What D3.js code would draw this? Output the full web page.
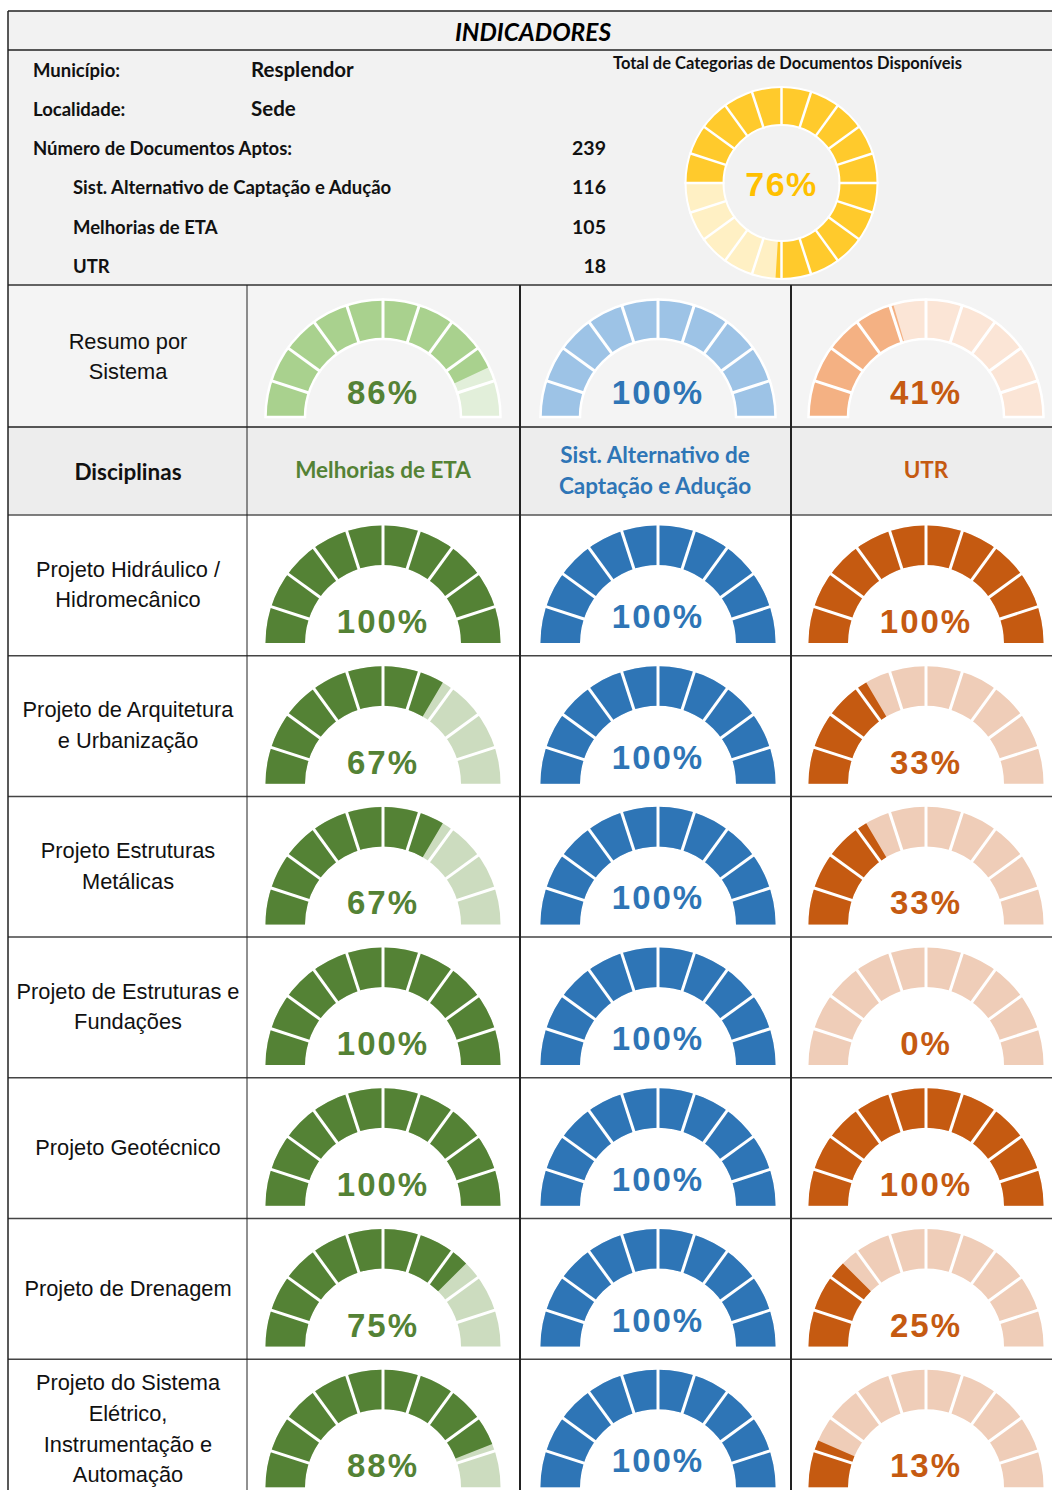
<!DOCTYPE html>
<html>
<head>
<meta charset="utf-8">
<script src="https://cdn.jsdelivr.net/npm/d3@7"></script>
<style>
  body { margin: 0; background: #fff; }
  .arial { font-family: "Liberation Sans", Arial, sans-serif; }
  .cal { font-family: Lato, "Open Sans", sans-serif; }
</style>
</head>
<body>
<div id="chart"></div>
<script>
// Dati
var municipio = "Resplendor";
var localidade = "Sede";
var docLabels = ["Número de Documentos Aptos:", "Sist. Alternativo de Captação e Adução", "Melhorias de ETA", "UTR"];
var docValues = [239, 116, 105, 18];
var totalTitle = "Total de Categorias de Documentos Disponíveis";
var totalPct = 76;

var systems = [["Melhorias de ETA"], ["Sist. Alternativo de", "Captação e Adução"], ["UTR"]];
var summaryPct = [86, 100, 41];

var disciplines = [
  ["Projeto Hidráulico /", "Hidromecânico"],
  ["Projeto de Arquitetura", "e Urbanização"],
  ["Projeto Estruturas", "Metálicas"],
  ["Projeto de Estruturas e", "Fundações"],
  ["Projeto Geotécnico"],
  ["Projeto de Drenagem"],
  ["Projeto do Sistema", "Elétrico,", "Instrumentação e", "Automação"]
];
var pctMelhorias = [100, 67, 67, 100, 100, 75, 88];
var pctSist = [100, 100, 100, 100, 100, 100, 100];
var pctUTR = [100, 33, 33, 0, 100, 25, 13];

// palette: [scuro, chiaro, testo] per riga riassunto e righe discipline
var palSummary = [["#A9D18E", "#E2EFDA", "#548235"], ["#9DC3E6", "#DEEBF7", "#2E75B6"], ["#F4B183", "#FBE5D6", "#C55A11"]];
var palRows = [["#548235", "#CCDCBF", "#548235"], ["#2E75B6", "#C0D5EA", "#2E75B6"], ["#C55A11", "#EFCDB8", "#C55A11"]];

var W = 1052, H = 1490;
var rowY0 = 515, rowH = 140.7;
var colCx = [383, 658, 926];

var svg = d3.select("#chart").append("svg")
    .attr("width", W).attr("height", H);

// sfondi
function bg(x, y, w, h, c){
  svg.append("rect").attr("x", x).attr("y", y).attr("width", w).attr("height", h).attr("fill", c);
}
bg(8, 11, W, 39, "#F2F2F2");
bg(8, 50, W, 235, "#F2F2F2");
bg(8, 285, W, 142, "#F4F4F4");
bg(8, 427, W, 88, "#EDEDED");

// testata
svg.append("text").attr("class", "cal")
   .attr("x", 533).attr("y", 41).attr("text-anchor", "middle")
   .attr("font-size", 24.5).attr("font-weight", "bold").attr("font-style", "italic")
   .text("INDICADORES");

var info = svg.append("g").attr("class", "cal").attr("font-weight", "bold").attr("fill", "#111");
info.append("text").attr("x", 33).attr("y", 77).attr("font-size", 18.5).text("Município:");
info.append("text").attr("x", 251).attr("y", 77).attr("font-size", 20.5).text(municipio);
info.append("text").attr("x", 33).attr("y", 116).attr("font-size", 18.5).text("Localidade:");
info.append("text").attr("x", 251).attr("y", 116).attr("font-size", 20.5).text(localidade);

info.selectAll(".lab").data(docLabels).enter().append("text")
    .attr("class", "lab")
    .attr("x", (d, i) => i == 0 ? 33 : 73)
    .attr("y", (d, i) => 155 + i * 39.3)
    .attr("font-size", 18.5)
    .text(d => d);
info.selectAll(".val").data(docValues).enter().append("text")
    .attr("class", "val")
    .attr("x", 606).attr("text-anchor", "end")
    .attr("y", (d, i) => 155 + i * 39.3)
    .attr("font-size", 19.5)
    .text(d => d);
info.append("text").attr("x", 613).attr("y", 69).attr("font-size", 16.5).text(totalTitle);

// ciambella totale
function drawDonut(cx, cy, pct){
  var R = 96, r = 58;
  var ang = d3.scaleLinear().domain([0, 100]).range([-Math.PI / 2, 3 * Math.PI / 2]);
  var arc = d3.arc().innerRadius(r).outerRadius(R);
  var g = svg.append("g").attr("transform", "translate(" + cx + "," + cy + ")");
  g.append("path").attr("d", arc({startAngle: ang(0), endAngle: ang(100)})).attr("fill", "#FFF0C4");
  g.append("path").attr("d", arc({startAngle: ang(0), endAngle: ang(pct)})).attr("fill", "#FFCA2C");
  g.selectAll("line").data(d3.range(0, 100, 5)).enter().append("line")
   .attr("x1", d => (r - 1) * Math.sin(ang(d))).attr("y1", d => -(r - 1) * Math.cos(ang(d)))
   .attr("x2", d => (R + 1) * Math.sin(ang(d))).attr("y2", d => -(R + 1) * Math.cos(ang(d)))
   .attr("stroke", "#fff").attr("stroke-width", 2.5);
  g.append("path").attr("d", arc({startAngle: 0, endAngle: 2 * Math.PI}))
   .attr("fill", "none").attr("stroke", "#fff").attr("stroke-width", 2);
  g.append("text").attr("class", "arial")
   .attr("y", 13).attr("text-anchor", "middle")
   .attr("font-size", 34).attr("font-weight", "bold").attr("letter-spacing", 1.5)
   .attr("fill", "#FFC000").text(pct + "%");
}
drawDonut(781.5, 183, totalPct);

// mezza ciambella
function drawGauge(cx, cy, pct, pal, textY, outline){
  var R = 117.5, r = 78;
  var ang = d3.scaleLinear().domain([0, 100]).range([-Math.PI / 2, Math.PI / 2]);
  var arc = d3.arc().innerRadius(r).outerRadius(R);
  var g = svg.append("g").attr("transform", "translate(" + cx + "," + cy + ")");
  g.append("path").attr("d", arc({startAngle: ang(0), endAngle: ang(100)})).attr("fill", pal[1]);
  if (pct > 0)
    g.append("path").attr("d", arc({startAngle: ang(0), endAngle: ang(pct)})).attr("fill", pal[0]);
  g.selectAll("line").data(d3.range(10, 100, 10)).enter().append("line")
   .attr("x1", d => (r - 1) * Math.sin(ang(d))).attr("y1", d => -(r - 1) * Math.cos(ang(d)))
   .attr("x2", d => (R + 1) * Math.sin(ang(d))).attr("y2", d => -(R + 1) * Math.cos(ang(d)))
   .attr("stroke", "#fff").attr("stroke-width", 3);
  if (outline){
    g.append("path").attr("d", arc({startAngle: ang(0), endAngle: ang(100)}))
     .attr("fill", "none").attr("stroke", "#fff").attr("stroke-width", 2.5);
  }
  g.append("text").attr("class", "arial")
   .attr("y", textY).attr("text-anchor", "middle")
   .attr("font-size", 33).attr("font-weight", "bold").attr("letter-spacing", 2)
   .attr("fill", pal[2]).text(pct + "%");
}

// riga riassunto
svg.append("text").attr("class", "arial").attr("text-anchor", "middle").attr("font-size", 21.8).attr("fill", "#111")
   .selectAll("tspan").data(["Resumo por", "Sistema"]).enter().append("tspan")
   .attr("x", 128).attr("y", (d, i) => 349 + i * 30).text(d => d);
summaryPct.forEach(function(p, i){
  drawGauge(colCx[i], 417, p, palSummary[i], -13, true);
});

// intestazione discipline
svg.append("text").attr("class", "cal").attr("x", 128).attr("y", 480)
   .attr("text-anchor", "middle").attr("font-size", 22.5).attr("font-weight", "bold").attr("fill", "#111").text("Disciplinas");
systems.forEach(function(lines, i){
  var t = svg.append("text").attr("class", "cal").attr("text-anchor", "middle")
     .attr("font-size", 22.5).attr("font-weight", "bold").attr("fill", palRows[i][2]);
  t.selectAll("tspan").data(lines).enter().append("tspan")
   .attr("x", colCx[i] - (i == 1 ? 3 : 0))
   .attr("y", (d, j) => 478 - (lines.length - 1) * 15.5 + j * 31)
   .text(d => d);
});

// righe discipline
var allPct = [pctMelhorias, pctSist, pctUTR];
disciplines.forEach(function(lines, k){
  var top = rowY0 + k * rowH;
  var mid = top + 70;
  var t = svg.append("text").attr("class", "arial").attr("text-anchor", "middle").attr("font-size", 21.8).attr("fill", "#111");
  t.selectAll("tspan").data(lines).enter().append("tspan")
   .attr("x", 128)
   .attr("y", (d, j) => mid + 7 - (lines.length - 1) * 15.3 + j * 30.6)
   .text(d => d);
  allPct.forEach(function(serie, i){
    drawGauge(colCx[i], top + 128, serie[k], palRows[i], i == 1 ? -15 : -10, false);
  });
});

// bordi
function hline(y, x1, x2, c, w){
  svg.append("line").attr("x1", x1).attr("x2", x2).attr("y1", y).attr("y2", y).attr("stroke", c).attr("stroke-width", w);
}
function vline(x, y1, y2, c, w){
  svg.append("line").attr("x1", x).attr("x2", x).attr("y1", y1).attr("y2", y2).attr("stroke", c).attr("stroke-width", w);
}
hline(11, 8, W, "#222", 1.5);
hline(50, 8, W, "#222", 1.5);
hline(285, 8, W, "#333", 1.5);
hline(427, 8, W, "#222", 1.5);
hline(515, 8, W, "#555", 1.5);
d3.range(1, disciplines.length).forEach(function(k){
  hline(rowY0 + k * rowH, 8, W, "#444", 1.5);
});
vline(8, 11, H, "#222", 1.5);
vline(247, 285, H, "#222", 1);
vline(520, 285, H, "#222", 2);
vline(791, 285, H, "#222", 2);
</script>
</body>
</html>
